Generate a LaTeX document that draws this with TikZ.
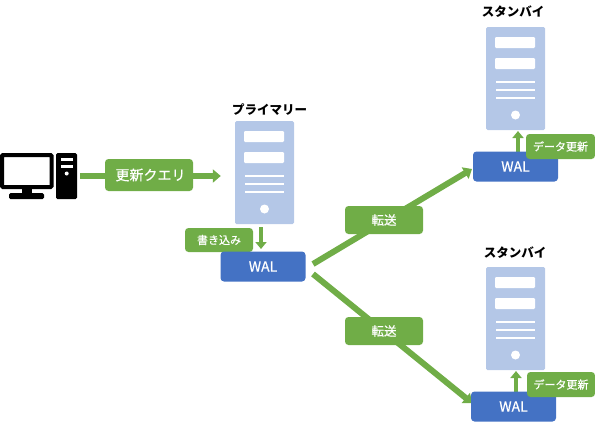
\documentclass[tikz,border=0pt]{standalone}
\usepackage{fontspec}
\setmainfont{Noto Sans CJK JP}
\newfontfamily\medfont[FakeBold=0.5]{Noto Sans CJK JP}
\usetikzlibrary{arrows.meta,backgrounds}
\definecolor{gr}{HTML}{70AD47}
\definecolor{bl}{HTML}{4472C4}
\definecolor{sv}{HTML}{B4C7E7}
\tikzset{
  lbl/.style={fill=gr,rounded corners=3.5pt,text=white,inner sep=0pt},
  wal/.style={fill=bl,rounded corners=3.5pt,text=white,inner sep=0pt,font=\medfont\fontsize{14}{14}\selectfont,minimum width=85pt,minimum height=30pt},
  ttl/.style={text=black,inner sep=0pt,font=\bfseries\fontsize{12.5}{13}\selectfont},
  srv/.style={fill=sv,rounded corners=1.5pt,minimum width=59pt,minimum height=103pt,inner sep=0pt},
  srvbar/.style={fill=white,rounded corners=1.2pt},
  srvline/.style={draw=white,line width=1.8pt},
  conn/.style={draw=gr,line width=6pt,-{Triangle[length=8pt,width=13pt]}},
  connthin/.style={draw=gr,line width=4.5pt,-{Triangle[length=7pt,width=11pt]}},
  blk/.style={fill=black,rounded corners=1.5pt},
}
\newcommand{\serverbox}[3]{%
  \begin{scope}[shift={(#2,#3)}]
    \node[srv] (#1) at (264.5,172.5) {};
    \fill[srvbar] (244,131) rectangle (284,142);
    \fill[srvbar] (244,152) rectangle (284,163);
    \draw[srvline] (245,176) -- (284,176);
    \draw[srvline] (245,184) -- (284,184);
    \draw[srvline] (245,192) -- (284,192);
    \fill[white] (264.5,209) circle (4.5);
  \end{scope}}
\begin{document}
\begin{tikzpicture}[x=1pt,y=-1pt]
\useasboundingbox (0,0) rectangle (595,426);
% computer
\node[minimum width=77pt,minimum height=46pt,inner sep=0pt] (pc) at (38.5,176) {};
\draw[line width=4pt,rounded corners=1pt] (2,155) rectangle (51.5,187);
\fill[black] (22,187) rectangle (32,194);
\fill[blk] (9,193) rectangle (44,199);
\fill[blk] (56,153) rectangle (77,199);
\fill[white] (60.5,158) rectangle (73,161);
\fill[white] (60.5,164.5) rectangle (73,167.5);
\fill[white] (66.7,173.5) circle (2);
% servers
\serverbox{srvP}{0}{0}
\serverbox{srvT}{251}{-94}
\serverbox{srvB}{251}{146}
% titles
\node[ttl] (tP) at (269.5,110) {プライマリー};
\node[ttl] (tT) at (513,12) {スタンバイ};
\node[ttl] (tB) at (515,253) {スタンバイ};
% labels and boxes
\node[lbl,minimum width=68pt,minimum height=24pt,font=\medfont\fontsize{11}{11}\selectfont] (w) at (219,240) {書き込み};
\node[wal] (walP) at (263,266.5) {WAL};
\node[wal] (walT) at (515.5,166.5) {WAL};
\node[wal] (walB) at (513.5,406.5) {WAL};
\node[lbl,minimum width=88pt,minimum height=32pt,font=\medfont\fontsize{14}{14}\selectfont] (q) at (149,175) {\hspace{3pt}更新クエリ};
\node[lbl,minimum width=69pt,minimum height=25pt,font=\medfont\fontsize{11}{11}\selectfont] (dT) at (560.5,146.5) {データ更新};
\node[lbl,minimum width=68pt,minimum height=25pt,font=\medfont\fontsize{11}{11}\selectfont] (dB) at (561,384.5) {データ更新};
\node[lbl,minimum width=78pt,minimum height=28pt,font=\medfont\fontsize{12.5}{13}\selectfont] (f1) at (384,220) {転送};
\node[lbl,minimum width=78pt,minimum height=28pt,font=\medfont\fontsize{12.5}{13}\selectfont] (f2) at (384,331) {転送};
% free ends
\coordinate (s1) at (313,264);
\coordinate (s2) at (313,274);
\coordinate (e1) at (472,169);
\coordinate (e2) at (472,403);
\begin{pgfonlayer}{background}
\draw[conn,shorten <=3pt,shorten >=14pt] (pc.east) -- (pc.east -| srvP.west);
\draw[connthin] (261,227) -- (261,249);
\draw[connthin] (518,152) -- (518,131);
\draw[connthin] (516,392) -- (516,371);
\draw[conn] (s1) -- (e1);
\draw[conn] (s2) -- (e2);
\end{pgfonlayer}
\end{tikzpicture}
\end{document}
